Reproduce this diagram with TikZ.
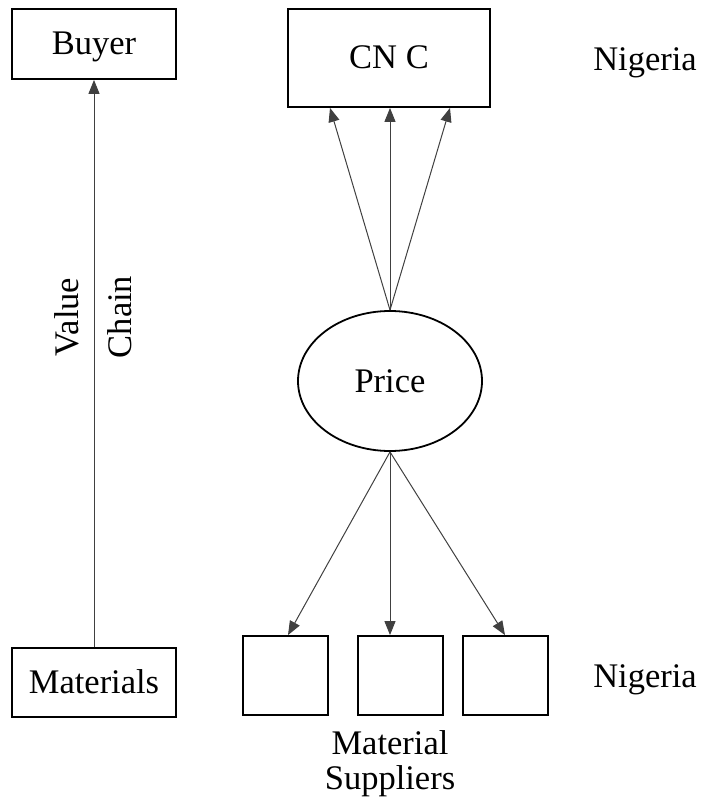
\documentclass[tikz,border=0pt]{standalone}
\usepackage{fontspec}
\setmainfont{Liberation Serif}
\usetikzlibrary{arrows.meta,shapes.geometric}
\begin{document}
\begin{tikzpicture}[x=1pt,y=-1pt,
  every node/.style={font=\fontsize{34.5}{37}\selectfont},
  box/.style={draw, line width=1.8pt, rectangle, inner sep=0pt, text height=27pt, text depth=5pt},
  flow/.style={draw=black!75, line width=1pt, -{Triangle[length=14pt,width=11pt]}},
  plain/.style={inner sep=0pt}]
  \useasboundingbox (0,0) rectangle (703,810);
  % value chain column
  \node[box, minimum width=164pt, minimum height=70pt] (buyer) at (94,44) {Buyer};
  \node[box, minimum width=164pt, minimum height=69pt] (mat) at (94,682.5) {Materials};
  \draw[flow] (mat.north) -- (buyer.south);
  \node[plain, rotate=90] (value) at (67,317) {Value};
  \node[plain, rotate=90] (chain) at (120,317) {Chain};
  % central column
  \node[box, minimum width=202pt, minimum height=98pt] (cnc) at (389,58) {CN C};
  \node[draw, line width=1.8pt, ellipse, inner sep=0pt, minimum width=184pt, minimum height=140pt, text height=27pt, text depth=5pt] (price) at (390,381) {Price};
  \node[box, minimum width=85pt, minimum height=79pt] (s1) at (285.5,675.5) {};
  \node[box, minimum width=85pt, minimum height=79pt] (s2) at (400.5,675.5) {};
  \node[box, minimum width=85pt, minimum height=79pt] (s3) at (505.5,675.5) {};
  \draw[flow] (price.north) -- ([xshift=-59pt]cnc.south);
  \draw[flow] (price.north) -- ([xshift=1pt]cnc.south);
  \draw[flow] (price.north) -- ([xshift=61pt]cnc.south);
  \draw[flow] (price.south) -- ([xshift=2.5pt]s1.north);
  \draw[flow] (price.south) -- ([xshift=-10.5pt]s2.north);
  \draw[flow] (price.south) -- ([xshift=-0.5pt]s3.north);
  \node[plain, align=center, font=\fontsize{34.5}{35}\selectfont] (suppliers) at (390,764) {Material\\Suppliers};
  % country labels
  \node[plain] (ng1) at (645,63) {Nigeria};
  \node[plain] (ng2) at (645,680) {Nigeria};
\end{tikzpicture}
\end{document}
